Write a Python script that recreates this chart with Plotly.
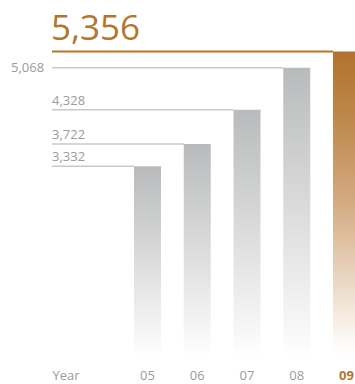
import plotly.graph_objects as go

# ---- data ----
years = ["05", "06", "07", "08", "09"]
values = [3332, 3722, 4328, 5068, 5356]
value_labels = ["3,332", "3,722", "4,328", "5,068", "5,356"]
axis_title = "Year"

# ---- style / layout constants ----
W, H = 355, 384
MB = 25
PLOT_H = H - MB
VAL_PER_PX = 17.45
Y_MAX = PLOT_H * VAL_PER_PX
PX_PER_UNIT = 49.75
FIRST_CENTER_PX = 147.5
X0 = -FIRST_CENTER_PX / PX_PER_UNIT
X1 = X0 + W / PX_PER_UNIT
BAR_W = 27 / PX_PER_UNIT
LINE_START = X0 + 52 / PX_PER_UNIT
TITLE_CENTER = X0 + 66 / PX_PER_UNIT

GRAY = "#b9babb"
BROWN = "#b1722e"
BROWN_TXT = "#b4752f"
LINE_GRAY = "#c9c9c9"
LABEL_GRAY = "#9b9b9b"
FONT = "Open Sans"

fig = go.Figure()
n = len(values)
for i, v in enumerate(values):
    last = i == n - 1
    xl, xr = i - BAR_W / 2, i + BAR_W / 2
    if last:
        cs = [[0, "#ffffff"], [0.04, "#fdfbf8"], [0.5, "#d3ab82"], [0.8, "#bd8648"], [1, BROWN]]
    else:
        cs = [[0, "#ffffff"], [0.04, "#fbfbfb"], [1, GRAY]]
    fig.add_trace(go.Scatter(
        x=[xl, xr, xr, xl, xl], y=[0, 0, v, v, 0],
        mode="lines", fill="toself", line=dict(width=0),
        fillgradient=dict(type="vertical", colorscale=cs),
        hoverinfo="skip", showlegend=False,
    ))
    # reference line from left to bar
    fig.add_shape(type="line", xref="x", yref="y",
                  x0=LINE_START, x1=xl, y0=v, y1=v,
                  line=dict(color=BROWN_TXT if last else LINE_GRAY, width=2 if last else 1.5),
                  layer="below")

# value labels
for i, (v, lab) in enumerate(zip(values, value_labels)):
    last = i == n - 1
    nxt_gap = (values[i + 1] - v) / VAL_PER_PX if i < n - 1 else 99
    if last:
        fig.add_annotation(x=LINE_START, y=v, xref="x", yref="y", text=lab,
                           showarrow=False, xanchor="left", yanchor="bottom",
                           xshift=-3, yshift=-1,
                           font=dict(family=FONT, size=35, color=BROWN_TXT))
    elif nxt_gap < 20:
        fig.add_annotation(x=LINE_START, y=v, xref="x", yref="y", text=lab,
                           showarrow=False, xanchor="right", yanchor="middle",
                           xshift=-6, yshift=1,
                           font=dict(family=FONT, size=13, color=LABEL_GRAY))
    else:
        fig.add_annotation(x=LINE_START, y=v, xref="x", yref="y", text=lab,
                           showarrow=False, xanchor="left", yanchor="bottom",
                           xshift=-2, yshift=-1,
                           font=dict(family=FONT, size=13, color=LABEL_GRAY))

# x tick labels (axis title placed as the first tick text)
tickvals = [TITLE_CENTER] + list(range(n))
ticktext = [axis_title] + [y if i < n - 1 else f'<span style="color:{BROWN_TXT}"><b>{y}</b></span>'
                           for i, y in enumerate(years)]

fig.update_layout(
    width=W, height=H,
    margin=dict(l=0, r=0, t=0, b=MB),
    paper_bgcolor="white", plot_bgcolor="white",
    xaxis=dict(range=[X0, X1], showgrid=False, zeroline=False, showline=False,
               tickmode="array", tickvals=tickvals, ticktext=ticktext,
               ticks="", ticklabelstandoff=11,
               tickfont=dict(family=FONT, size=13, color=LABEL_GRAY), fixedrange=True),
    yaxis=dict(range=[0, Y_MAX], showgrid=False, zeroline=False, showline=False,
               showticklabels=False, fixedrange=True),
    showlegend=False,
)

fig.write_html("out.html", config={"displayModeBar": False})
